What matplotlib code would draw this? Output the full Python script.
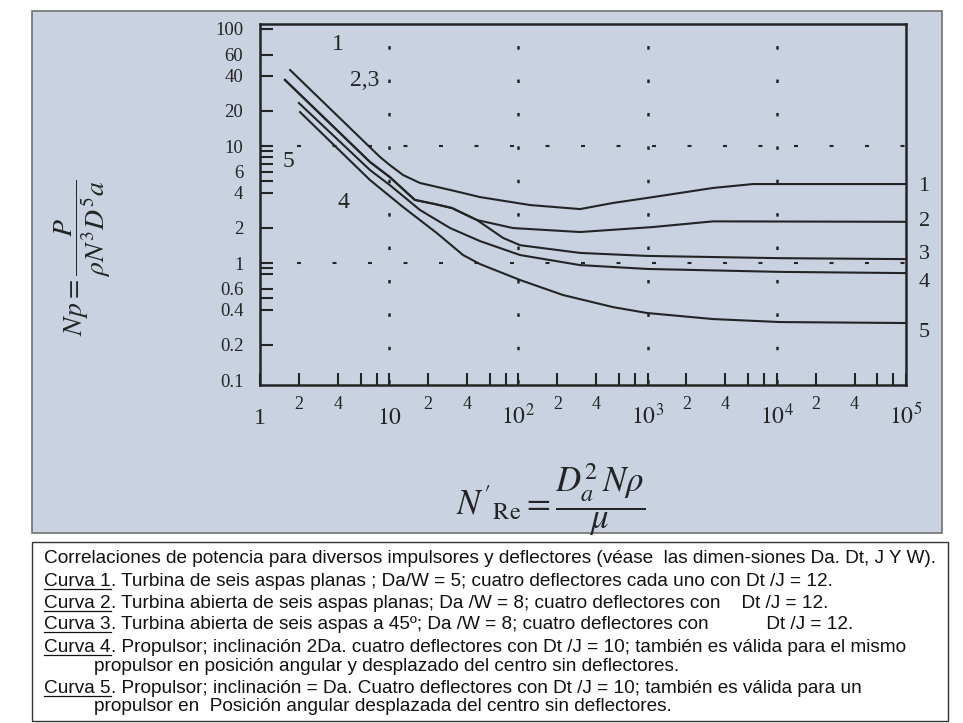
import matplotlib
matplotlib.use('Agg')
import matplotlib.pyplot as plt
from matplotlib.patches import Rectangle
from matplotlib.lines import Line2D

# curvas Np vs N'Re
re_c1 = [1.71, 8.49, 10.1, 12.8, 17.3, 32.3, 50.4, 123, 300, 540, 1100, 3210, 6540, 1e5]
np_c1 = [44.6, 8.05, 6.88, 5.65, 4.83, 4.12, 3.66, 3.13, 2.89, 3.26, 3.66, 4.38, 4.73, 4.73]

re_c2 = [1.56, 7.10, 10.1, 15.8, 22.6, 30.6, 47.8, 90.8, 300, 1100, 3210, 1e5]
np_c2 = [36.7, 7.30, 5.43, 3.46, 3.19, 2.95, 2.33, 1.99, 1.84, 2.03, 2.27, 2.25]

re_c3 = [1.56, 7.10, 10.1, 15.8, 22.6, 30.6, 47.8, 76.0, 103, 300, 990, 10590, 1e5]
np_c3 = [36.7, 7.30, 5.43, 3.46, 3.19, 2.95, 2.33, 1.64, 1.42, 1.22, 1.15, 1.10, 1.08]

re_c4 = [2.00, 7.10, 10.1, 17.3, 29.6, 50.4, 103, 300, 990, 10590, 1e5]
np_c4 = [23.3, 6.23, 4.64, 2.84, 1.99, 1.54, 1.17, 0.96, 0.89, 0.84, 0.82]

re_c5 = [2.04, 7.10, 12.8, 23.4, 37.3, 50.4, 103, 221, 540, 990, 3210, 10590, 1e5]
np_c5 = [19.5, 5.12, 3.01, 1.80, 1.17, 0.98, 0.716, 0.533, 0.42, 0.374, 0.332, 0.313, 0.307]

curve_names = ['1', '2', '3', '4', '5']

x_major = [1, 10, 100, 1000, 10000, 100000]
x_major_labels = ['1', '$10$', '$10^2$', '$10^3$', '$10^4$', '$10^5$']
x_minor = [m * d for d in [1, 10, 100, 1000, 10000] for m in [2, 4, 6, 8]]
x_minor_labels = [s for d in range(5) for s in ['2', '4', '', '']]

y_major = [100, 60, 40, 20, 10, 6, 4, 2, 1, 0.6, 0.4, 0.2, 0.1]
y_major_labels = ['100', '60', '40', '20', '10', '6', '4', '2', '1', '0.6', '0.4', '0.2', '0.1']
y_minor = [9, 8, 7, 5, 0.9, 0.8, 0.5]

grid_x = [10, 100, 1000, 10000]
grid_y = [10, 1]

caption = [
    ('', 'Correlaciones de potencia para diversos impulsores y deflectores (véase  las dimen-siones Da. Dt, J Y W).'),
    ('Curva 1', '. Turbina de seis aspas planas ; Da/W = 5; cuatro deflectores cada uno con Dt /J = 12.'),
    ('Curva 2', '. Turbina abierta de seis aspas planas; Da /W = 8; cuatro deflectores con    Dt /J = 12.'),
    ('Curva 3', '. Turbina abierta de seis aspas a 45º; Da /W = 8; cuatro deflectores con           Dt /J = 12.'),
    ('Curva 4', '. Propulsor; inclinación 2Da. cuatro deflectores con Dt /J = 10; también es válida para el mismo'),
    ('', 'propulsor en posición angular y desplazado del centro sin deflectores.'),
    ('Curva 5', '. Propulsor; inclinación = Da. Cuatro deflectores con Dt /J = 10; también es válida para un'),
    ('', 'propulsor en  Posición angular desplazada del centro sin deflectores.'),
]

W, H = 963, 723
ink = '#242424'
panel_color = '#c9d2e0'

plt.rcParams['font.family'] = 'serif'
plt.rcParams['font.serif'] = ['Liberation Serif', 'DejaVu Serif']
plt.rcParams['mathtext.fontset'] = 'stix'

fig = plt.figure(figsize=(W / 100, H / 100), dpi=100)
fig.patch.set_facecolor('white')

# fondo azulado del escaneo
fig.add_artist(Rectangle((32 / W, 1 - 533 / H), (942 - 32) / W, (533 - 11) / H,
                         transform=fig.transFigure, facecolor=panel_color,
                         edgecolor='#707070', lw=1.2, zorder=-2))
# recuadro del texto
fig.add_artist(Rectangle((32 / W, 1 - 721 / H), (948 - 32) / W, (721 - 542) / H,
                         transform=fig.transFigure, facecolor='white',
                         edgecolor='#333333', lw=1.0, zorder=-2))

ax = fig.add_axes([260 / W, 1 - 385 / H, (906 - 260) / W, (385 - 24) / H])
ax.set_facecolor(panel_color)
ax.set_xscale('log')
ax.set_yscale('log')
ax.set_xlim(1, 1e5)
ax.set_ylim(0.0907, 110.3)

for v in grid_x:
    ax.axvline(v, color=ink, lw=1.8, ls=(12.62, (1.4, 11.96)), zorder=1)
for h in grid_y:
    ax.axhline(h, color=ink, lw=1.5, ls=(16.32, (1.92, 15.12)), zorder=1)

curves = [(re_c1, np_c1), (re_c2, np_c2), (re_c3, np_c3), (re_c4, np_c4), (re_c5, np_c5)]
label_dy = [-2, 0, 3.6, -7, -6.5]
for (xs, ys), name, dy in zip(curves, curve_names, label_dy):
    ax.plot(xs, ys, color=ink, lw=1.5, solid_joinstyle='round', zorder=3)
    ax.annotate(name, xy=(xs[-1], ys[-1]), xytext=(9, dy), textcoords='offset points',
                fontsize=16, ha='left', va='center', color=ink, annotation_clip=False)

# rotulos dentro de la grafica
ax.text(4.02, 73, '1', fontsize=17, ha='center', va='center', color=ink)
ax.text(6.5, 36.6, '2,3', fontsize=17, ha='center', va='center', color=ink)
ax.text(1.65, 7.3, '5', fontsize=17, ha='center', va='center', color=ink)
ax.text(4.39, 3.26, '4', fontsize=17, ha='center', va='center', color=ink)

ax.set_xticks(x_major, labels=x_major_labels)
ax.set_xticks(x_minor, labels=x_minor_labels, minor=True)
ax.set_yticks(y_major, labels=y_major_labels)
ax.set_yticks(y_minor, labels=[''] * len(y_minor), minor=True)

ax.tick_params(which='both', direction='in', length=9, width=1.5, color=ink, labelcolor=ink)
ax.tick_params(axis='x', which='major', labelsize=17, pad=28)
ax.tick_params(axis='x', which='minor', labelsize=13, pad=8)
ax.tick_params(axis='y', which='both', labelsize=13.5, pad=12)
for lbl in ax.get_xticklabels():
    lbl.set_verticalalignment('baseline')
ax.yaxis.get_major_ticks()[-1].tick1line.set_visible(False)

for sp in ax.spines.values():
    sp.set_linewidth(1.8)
    sp.set_color(ink)

fig.text(83 / W, 1 - 258 / H, r'$Np = \dfrac{P}{\rho N^3 D^5 a}$', rotation=90,
         fontsize=20, ha='center', va='center', color=ink)
fig.text(551 / W, 1 - 500 / H, r"$N'_{\mathrm{Re}} = \dfrac{D_a^2\,N\rho}{\mu}$",
         fontsize=25, ha='center', va='center', color=ink)

# texto de las curvas
renderer = fig.canvas.get_renderer()
baselines = [563, 586, 608, 629, 652, 671, 693, 711]
for (under, rest), yb in zip(caption, baselines):
    x0 = 44 / W if under or rest.startswith('Correl') else 94 / W
    y0 = 1 - yb / H
    if under:
        t = fig.text(x0, y0, under, fontsize=13.65, family='Liberation Sans',
                     va='baseline', ha='left', color='#111111')
        bb = t.get_window_extent(renderer)
        fig.add_artist(Line2D([bb.x0 / W, bb.x1 / W], [y0 - 2.5 / H, y0 - 2.5 / H],
                              transform=fig.transFigure, color='#111111', lw=0.9))
        x0 = bb.x1 / W
    fig.text(x0, y0, rest, fontsize=13.65, family='Liberation Sans',
             va='baseline', ha='left', color='#111111')

fig.savefig('out.png', dpi=100)
